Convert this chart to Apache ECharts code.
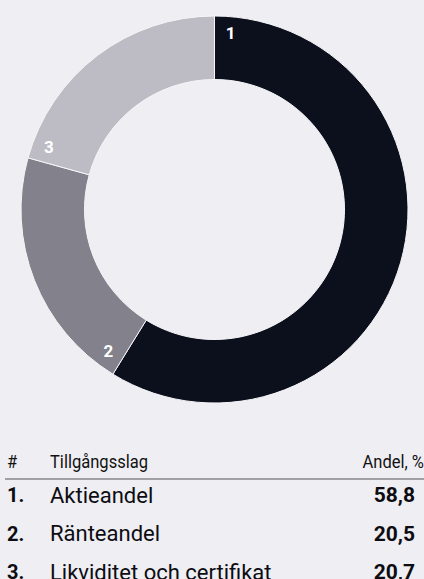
<!DOCTYPE html>
<html>
<head>
<meta charset="utf-8">
<script src="https://cdn.jsdelivr.net/npm/echarts@6/dist/echarts.min.js"></script>
<style>
  html, body { margin: 0; padding: 0; background: #efeef3; }
  #chart { width: 424px; height: 579px; }
</style>
</head>
<body>
<div id="chart"></div>
<script>
// data
var nummer = ['1', '2', '3'];
var namn = ['Aktieandel', 'Ränteandel', 'Likviditet och certifikat'];
var andel = [58.8, 20.5, 20.7];
var farger = ['#0c0f1c', '#82818c', '#bdbcc4'];
var rubriker = ['#', 'Tillgångsslag', 'Andel, %'];

var cx = 214.5, cy = 209.5;
var total = andel.reduce(function (a, b) { return a + b; }, 0);

var fmt = function (v) { return v.toFixed(1).replace('.', ','); };

var chart = echarts.init(document.getElementById('chart'), null, { renderer: 'svg' });

// label sits just after the start of each slice, near the outer edge
var placeLabel = function (p) {
    var before = 0;
    for (var i = 0; i < p.dataIndex; i++) before += andel[i];
    var rl = 177;
    var a = before / total * 2 * Math.PI + Math.asin(16 / rl);
    return {
        x: cx + rl * Math.sin(a),
        y: cy - rl * Math.cos(a),
        align: 'center',
        verticalAlign: 'middle'
    };
};

var tabell = [];
var rowTop = 495, rowH = 38.5;
tabell.push(
    { type: 'text', x: 7, y: 471, scaleX: 0.92, style: { text: rubriker[0], fontFamily: 'Roboto', fontSize: 18, fill: '#111', textVerticalAlign: 'bottom' } },
    { type: 'text', x: 50, y: 471, scaleX: 0.92, style: { text: rubriker[1], fontFamily: 'Roboto', fontSize: 18, fill: '#111', textVerticalAlign: 'bottom' } },
    { type: 'text', x: 424, y: 471, scaleX: 0.92, style: { text: rubriker[2], fontFamily: 'Roboto', fontSize: 18, fill: '#111', textAlign: 'right', textVerticalAlign: 'bottom' } },
    { type: 'line', shape: { x1: 5, y1: 479, x2: 424, y2: 479 }, style: { stroke: '#555', lineWidth: 1.2 } }
);
for (var i = 0; i < namn.length; i++) {
    var y = rowTop + i * rowH;
    tabell.push(
        { type: 'text', x: 7, y: y, style: { text: nummer[i] + '.', fontFamily: 'Roboto', fontWeight: 'bold', fontSize: 20, fill: '#0c0c12', textVerticalAlign: 'middle' } },
        { type: 'text', x: 50, y: y, style: { text: namn[i], fontFamily: 'Roboto', fontSize: 22, fill: '#0c0c12', textVerticalAlign: 'middle' } },
        { type: 'text', x: 415, y: y, style: { text: fmt(andel[i]), fontFamily: 'Roboto', fontWeight: 'bold', fontSize: 21, fill: '#0c0c12', textAlign: 'right', textVerticalAlign: 'middle' } }
    );
}

var option = {
    backgroundColor: '#efeef3',
    animation: false,
    graphic: tabell,
    series: [
        {
            type: 'pie',
            center: [cx, cy],
            radius: [130, 193.5],
            startAngle: 90,
            clockwise: true,
            avoidLabelOverlap: false,
            itemStyle: { borderColor: '#f6f6f9', borderWidth: 1 },
            label: {
                show: true,
                position: 'inside',
                formatter: function (p) { return nummer[p.dataIndex]; },
                color: '#fff',
                fontFamily: 'Roboto',
                fontWeight: 'bold',
                fontSize: 17
            },
            labelLayout: placeLabel,
            emphasis: { disabled: true },
            data: andel.map(function (v, i) {
                return { name: namn[i], value: v, itemStyle: { color: farger[i] } };
            })
        }
    ]
};

chart.setOption(option);
</script>
</body>
</html>
